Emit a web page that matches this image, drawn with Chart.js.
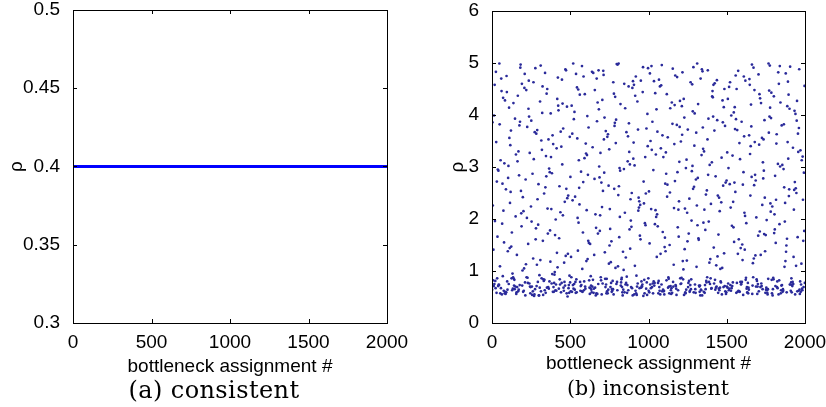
<!DOCTYPE html>
<html>
<head>
<meta charset="utf-8">
<script src="https://cdn.jsdelivr.net/npm/chart.js@4.4.1/dist/chart.umd.min.js"></script>
<style>
  html, body { margin: 0; padding: 0; background: #fff; }
  #wrap { position: relative; width: 826px; height: 407px; overflow: hidden; }
  .box { position: absolute; top: 0; width: 413px; height: 382px; }
  .cap { position: absolute; top: 376px; font-family: "DejaVu Serif", "Liberation Serif", serif; color: #000; white-space: nowrap; transform: translateX(-50%); }
</style>
</head>
<body>
<div id="wrap">
  <div class="box" style="left:0"><canvas id="consistent" width="413" height="382"></canvas></div>
  <div class="box" style="left:413px"><canvas id="inconsistent" width="413" height="382"></canvas></div>
  <div class="cap" style="left:214px; font-size:24px; letter-spacing:0.4px">(a) consistent</div>
  <div class="cap" style="left:648px; font-size:20.5px">(b) inconsistent</div>
</div>
<script>
// 축 공통 텍스트
const xTitle = 'bottleneck assignment #';
const yTitle = 'ρ';
const xTicks = [0, 500, 1000, 1500, 2000];

// (a) consistent: 모든 할당에서 ρ = 0.4
const consistentCount = 2000;
const consistentRho = 0.4;
const consistentYTicks = [0.3, 0.35, 0.4, 0.45, 0.5];

// (b) inconsistent: 그림에서 읽은 값 (할당 2개마다 하나씩, 500 구간별)
const rho0to500 = [
  0.64, 3.86, 2.26, 0.82, 1.41, 0.71, 3.99, 0.75, 4.58, 1.96,
  0.81, 0.67, 4.83, 3.48, 0.58, 2.72, 0.86, 1.66, 2.95, 0.71,
  2.93, 0.74, 0.73, 4.99, 3.82, 1.09, 0.57, 3.13, 0.67, 4.70,
  4.46, 0.55, 1.91, 2.68, 0.90, 4.33, 2.16, 0.62, 1.55, 3.07,
  0.57, 4.28, 0.60, 0.56, 2.57, 0.59, 4.75, 4.44, 0.80, 0.64,
  1.38, 2.79, 3.02, 0.75, 4.14, 3.56, 1.44, 2.31, 3.42, 2.52,
  3.70, 1.47, 0.86, 1.74, 0.63, 0.95, 0.66, 0.88, 4.23, 0.85,
  0.72, 0.83, 0.65, 3.93, 0.70, 2.05, 3.24, 0.56, 0.59, 1.31,
  0.69, 3.11, 4.37, 0.61, 3.30, 0.64, 2.84, 3.80, 0.73, 3.87,
  4.91, 4.97, 2.54, 2.11, 1.86, 4.60, 0.72, 1.01, 2.42, 0.60,
  2.15, 0.62, 1.05, 4.52, 4.79, 0.78, 0.53, 2.76, 1.13, 4.48,
  0.88, 2.02, 3.77, 0.87, 0.77, 1.52, 4.12, 4.66, 3.97, 0.76,
  3.27, 0.70, 0.57, 0.69, 2.24, 3.89, 1.95, 0.70, 0.54, 2.87,
  0.61, 1.24, 4.63, 3.15, 0.52, 0.55, 3.67, 0.65, 4.90, 1.61,
  1.82, 3.64, 0.71, 1.12, 3.71, 2.38, 0.79, 1.89, 2.67, 0.53,
  0.53, 0.92, 0.68, 4.26, 1.21, 4.95, 0.61, 3.51, 0.86, 3.33,
  4.04, 4.55, 1.58, 0.54, 0.84, 0.81, 2.49, 0.83, 0.63, 4.81,
  2.61, 0.58, 3.21, 2.82, 4.41, 0.68, 4.50, 2.20, 1.72, 0.69,
  3.53, 0.66, 2.97, 0.80, 2.90, 1.78, 1.18, 4.03, 3.19, 2.19,
  0.76, 2.88, 0.94, 3.61, 0.60, 3.44, 0.69, 0.60, 0.77, 0.93,
  0.98, 1.69, 0.63, 1.99, 0.74, 0.62, 3.36, 1.35, 4.31, 1.07,
  4.72, 4.18, 4.09, 0.66, 1.63, 2.63, 0.84, 0.74, 2.13, 3.68,
  0.59, 3.39, 0.77, 4.68, 3.05, 4.22, 2.07, 3.74, 0.68, 0.62,
  1.16, 0.79, 2.33, 0.72, 4.88, 1.29, 4.86, 2.58, 0.57, 4.16,
  2.40, 0.51, 1.33, 2.45, 0.67, 0.73, 0.58, 0.91, 3.58, 0.78
];
const rho500to1000 = [
  2.81, 0.61, 1.27, 0.88, 4.18, 0.60, 3.64, 2.36, 0.73, 4.99,
  0.66, 3.92, 0.75, 4.06, 0.64, 2.43, 0.79, 0.58, 4.79, 0.84,
  0.59, 4.53, 3.55, 2.02, 1.39, 4.49, 1.93, 3.13, 2.60, 2.28,
  4.39, 0.79, 0.62, 0.71, 2.91, 0.73, 0.61, 4.94, 1.04, 0.60,
  1.74, 2.71, 4.74, 0.63, 0.80, 3.17, 4.40, 0.70, 0.66, 3.45,
  3.26, 1.19, 2.17, 3.23, 3.98, 1.23, 2.85, 1.58, 3.76, 1.54,
  0.82, 0.68, 0.56, 1.52, 0.67, 0.90, 0.72, 0.64, 0.59, 4.83,
  0.70, 3.38, 0.83, 4.81, 0.58, 0.66, 1.31, 2.77, 4.48, 0.68,
  2.09, 0.53, 1.83, 0.57, 4.70, 3.88, 0.56, 4.24, 1.72, 0.75,
  4.86, 4.11, 3.01, 2.80, 1.77, 2.07, 3.27, 0.88, 0.82, 2.70,
  0.55, 2.23, 4.29, 0.76, 2.54, 4.85, 4.77, 3.53, 2.89, 3.95,
  1.36, 0.85, 0.69, 3.69, 0.74, 0.57, 0.85, 0.61, 3.58, 0.57,
  3.63, 0.64, 2.64, 1.14, 3.34, 1.49, 2.19, 1.81, 0.69, 1.17,
  0.77, 1.57, 0.60, 0.65, 0.62, 0.81, 0.65, 4.63, 0.55, 4.41,
  2.58, 3.79, 3.85, 4.35, 1.06, 3.46, 3.91, 0.75, 4.98, 0.79,
  0.63, 4.97, 1.09, 2.46, 4.99, 2.63, 1.65, 2.98, 2.04, 2.93,
  4.21, 0.72, 0.78, 0.84, 0.87, 0.69, 0.59, 0.53, 1.37, 0.64,
  1.02, 2.96, 4.60, 0.59, 2.12, 4.13, 0.74, 1.26, 0.77, 3.67,
  0.89, 0.58, 0.73, 3.11, 3.59, 0.63, 4.55, 3.84, 3.29, 1.80,
  3.05, 1.43, 2.38, 1.97, 0.69, 1.85, 2.50, 0.67, 4.52, 0.53,
  4.65, 3.16, 3.47, 4.58, 0.55, 3.03, 1.10, 4.37, 0.62, 4.74,
  0.57, 0.91, 0.54, 0.70, 4.26, 0.76, 3.72, 2.16, 2.41, 2.22,
  2.34, 0.67, 1.68, 2.27, 1.61, 4.66, 0.68, 0.80, 0.71, 0.70,
  0.74, 4.44, 4.92, 0.52, 2.72, 2.30, 0.83, 0.57, 1.92, 3.19,
  1.88, 2.49, 0.66, 3.74, 0.78, 0.54, 4.02, 3.40, 4.90, 0.86
];
const rho1000to1500 = [
  0.62, 2.53, 0.59, 1.53, 4.80, 0.74, 3.50, 0.67, 2.19, 4.94,
  3.33, 0.69, 3.87, 0.76, 0.57, 2.94, 0.80, 4.65, 0.72, 0.77,
  1.90, 4.42, 2.17, 3.24, 2.04, 4.11, 1.27, 2.09, 3.68, 1.86,
  0.77, 0.57, 0.81, 4.68, 0.69, 0.62, 4.55, 0.55, 1.33, 3.36,
  4.57, 0.74, 4.96, 0.61, 3.61, 1.75, 0.64, 3.19, 0.61, 0.62,
  0.55, 1.46, 1.64, 2.68, 1.38, 3.28, 2.87, 0.82, 4.40, 2.43,
  2.66, 3.57, 0.68, 0.88, 0.85, 0.70, 0.57, 1.50, 2.51, 4.13,
  0.71, 0.63, 0.56, 0.67, 4.24, 0.58, 3.83, 4.89, 0.79, 0.70,
  1.12, 2.21, 3.44, 4.19, 2.73, 4.76, 0.73, 0.71, 0.66, 0.54,
  3.81, 4.73, 2.90, 1.84, 0.63, 2.18, 1.66, 2.34, 3.10, 3.77,
  4.27, 0.86, 0.75, 3.49, 0.76, 0.87, 4.17, 3.62, 4.82, 1.19,
  0.84, 1.03, 4.31, 0.54, 3.95, 1.42, 2.20, 0.59, 0.57, 2.98,
  0.64, 3.14, 1.20, 2.12, 1.57, 3.72, 0.69, 0.77, 1.72, 0.81,
  2.39, 0.60, 0.62, 0.73, 4.63, 0.65, 0.84, 1.97, 2.92, 4.59,
  3.02, 4.07, 2.58, 4.92, 0.59, 2.62, 3.41, 4.03, 0.74, 0.65,
  0.58, 2.76, 3.66, 1.08, 2.26, 4.99, 1.88, 2.79, 4.21, 1.63,
  1.60, 0.72, 0.70, 0.60, 0.72, 0.53, 4.70, 0.64, 0.63, 3.23,
  4.88, 0.53, 4.84, 3.76, 3.35, 1.93, 0.60, 3.30, 2.18, 0.58,
  0.73, 1.79, 0.65, 2.47, 0.81, 0.78, 2.55, 0.88, 3.53, 4.86,
  2.85, 3.93, 1.95, 0.79, 1.16, 3.04, 0.75, 1.23, 0.86, 2.29,
  0.66, 0.67, 3.09, 4.36, 4.46, 4.34, 3.97, 4.58, 1.45, 0.76,
  3.70, 4.61, 0.83, 0.64, 2.82, 0.68, 1.11, 0.70, 4.67, 3.90,
  1.28, 2.45, 0.58, 1.70, 0.66, 2.41, 0.63, 2.15, 0.68, 1.04,
  0.80, 0.78, 2.32, 3.18, 0.55, 1.06, 4.28, 3.86, 2.64, 0.69,
  4.15, 1.34, 4.50, 0.71, 3.79, 0.61, 2.70, 0.56, 0.59, 2.74
];
const rho1500to2000 = [
  0.70, 3.28, 0.68, 4.31, 0.76, 2.98, 0.63, 4.54, 0.66, 2.67,
  4.63, 0.73, 2.22, 0.62, 3.99, 0.67, 1.87, 0.71, 3.22, 0.78,
  2.33, 1.84, 4.05, 1.56, 2.70, 4.15, 3.73, 2.52, 4.76, 3.92,
  0.58, 4.50, 0.77, 3.71, 0.60, 1.33, 4.85, 0.62, 1.61, 0.61,
  3.46, 0.60, 3.15, 0.79, 1.44, 0.74, 0.75, 3.87, 0.79, 1.51,
  1.21, 2.66, 0.54, 2.90, 4.74, 3.59, 2.12, 1.41, 2.06, 4.66,
  0.83, 0.87, 1.92, 0.66, 0.69, 0.59, 0.58, 0.77, 0.57, 0.68,
  0.64, 3.61, 4.69, 4.58, 3.25, 2.45, 3.40, 4.20, 3.78, 2.81,
  4.97, 0.56, 0.72, 1.15, 0.88, 4.91, 1.24, 2.65, 4.48, 3.48,
  2.85, 1.30, 2.74, 0.70, 2.03, 0.84, 0.81, 0.56, 0.70, 0.75,
  1.68, 4.78, 0.61, 3.43, 4.40, 1.76, 4.32, 0.69, 1.31, 4.23,
  0.76, 0.71, 3.56, 2.27, 0.65, 3.09, 2.78, 3.53, 2.93, 1.71,
  3.90, 2.41, 1.38, 0.58, 1.69, 0.64, 0.68, 1.98, 0.63, 0.58,
  0.55, 0.65, 0.85, 4.99, 3.66, 4.47, 3.97, 4.95, 4.14, 2.30,
  2.14, 3.94, 4.43, 0.83, 0.57, 2.24, 0.53, 0.65, 0.87, 0.84,
  4.36, 1.73, 2.09, 1.80, 2.83, 0.71, 1.54, 2.37, 3.45, 3.63,
  0.69, 0.80, 0.67, 3.06, 4.82, 0.55, 4.60, 0.82, 1.90, 4.94,
  3.01, 4.24, 0.57, 0.63, 0.72, 3.80, 0.73, 3.04, 0.60, 0.65,
  0.62, 2.96, 3.82, 2.61, 1.08, 1.95, 2.31, 1.19, 4.80, 1.37,
  1.49, 0.59, 1.62, 4.17, 3.48, 4.64, 3.16, 4.39, 2.44, 2.57,
  4.12, 0.74, 4.93, 0.74, 0.62, 0.78, 0.86, 0.59, 0.73, 0.71,
  0.79, 3.37, 0.75, 1.27, 2.18, 2.56, 4.08, 2.71, 0.55, 4.02,
  2.59, 1.10, 2.50, 3.89, 4.27, 0.61, 1.65, 3.64, 3.29, 0.62,
  3.75, 4.88, 0.64, 0.56, 0.80, 3.32, 0.60, 0.74, 1.14, 3.13,
  0.66, 0.63, 3.20, 2.37, 1.58, 0.69, 2.89, 1.77, 4.56, 0.77
];
const inconsistentSegments = [rho0to500, rho500to1000, rho1000to1500, rho1500to2000];
const inconsistentYTicks = [0, 1, 2, 3, 4, 5, 6];

const tickFont = { family: '"Liberation Sans", Arial, sans-serif', size: 19 };

// MATLAB 스타일: 검은 테두리 + 안쪽으로 향하는 눈금
const matlabBox = {
    id: 'matlabBox',
    afterDraw(chart) {
        const { ctx, chartArea: a, scales } = chart;
        ctx.save();
        ctx.strokeStyle = '#000';
        ctx.lineWidth = 1;
        ctx.beginPath();
        scales.x.ticks.forEach(t => {
            const px = Math.round(scales.x.getPixelForValue(t.value)) + 0.5;
            ctx.moveTo(px, a.bottom); ctx.lineTo(px, a.bottom - 4);
            ctx.moveTo(px, a.top); ctx.lineTo(px, a.top + 4);
        });
        scales.y.ticks.forEach(t => {
            const py = Math.round(scales.y.getPixelForValue(t.value)) + 0.5;
            ctx.moveTo(a.left, py); ctx.lineTo(a.left + 4, py);
            ctx.moveTo(a.right, py); ctx.lineTo(a.right - 4, py);
        });
        ctx.stroke();
        ctx.strokeRect(Math.round(a.left) + 0.5, Math.round(a.top) + 0.5,
            Math.round(a.right - a.left), Math.round(a.bottom - a.top));
        ctx.restore();
    }
};

function makeChart(id, points, color, yTicks, opts) {
    const ctx = document.getElementById(id).getContext('2d');
    return new Chart(ctx, {
        type: 'scatter',
        data: {
            datasets: [{
                data: points,
                backgroundColor: color,
                borderWidth: 0,
                pointRadius: opts.radius,
                pointHoverRadius: opts.radius,
            }]
        },
        options: {
            responsive: false,
            animation: false,
            layout: { padding: { left: 0, top: opts.top, right: opts.right, bottom: 0 } },
            plugins: { legend: { display: false }, tooltip: { enabled: false } },
            scales: {
                x: {
                    type: 'linear', min: 0, max: 2000,
                    grid: { display: false },
                    border: { display: false },
                    afterBuildTicks: s => { s.ticks = xTicks.map(v => ({ value: v })); },
                    afterFit: s => { s.height = 59; s.paddingLeft = 0; s.paddingRight = 0; },
                    ticks: { font: tickFont, color: '#000', padding: 0, maxRotation: 0, callback: v => String(v) },
                    title: { display: true, text: xTitle, font: tickFont, color: '#000', padding: { top: opts.xTitlePad, bottom: opts.xTitlePad } },
                },
                y: {
                    type: 'linear', min: yTicks[0], max: yTicks[yTicks.length - 1],
                    grid: { display: false },
                    border: { display: false },
                    afterBuildTicks: s => { s.ticks = yTicks.map(v => ({ value: v })); },
                    afterFit: s => { s.width = opts.yWidth; s.paddingTop = 0; s.paddingBottom = 0; },
                    ticks: { font: tickFont, color: '#000', padding: opts.yTickPad, callback: v => String(v) },
                    title: { display: true, text: yTitle, font: tickFont, color: '#000', padding: { top: opts.yTitlePad, bottom: 0 } },
                }
            }
        },
        plugins: [matlabBox]
    });
}

const consistentPoints = Array.from({ length: consistentCount }, (_, i) => ({ x: i + 1, y: consistentRho }));
const inconsistentPoints = inconsistentSegments.flatMap((seg, k) =>
    seg.map((v, i) => ({ x: k * 500 + 2 * i + 1, y: v })));

makeChart('consistent', consistentPoints, '#0000ff', consistentYTicks,
    { top: 10, right: 26, yWidth: 73, yTickPad: 5, yTitlePad: 5, xTitlePad: 4, radius: 1.1 });
makeChart('inconsistent', inconsistentPoints, '#2a2a9a', inconsistentYTicks,
    { top: 11, right: 21, yWidth: 79, yTickPad: 5, yTitlePad: 33, xTitlePad: 7, radius: 1.35 });
</script>
</body>
</html>
